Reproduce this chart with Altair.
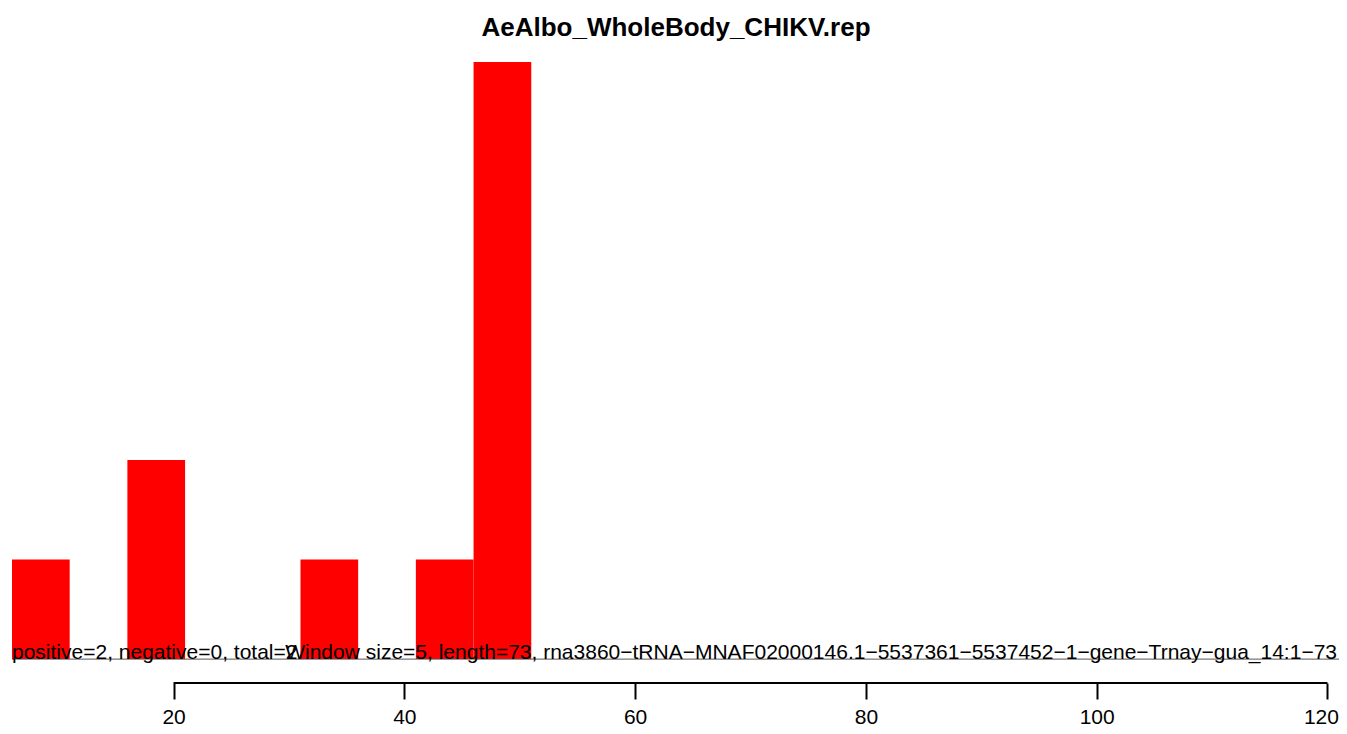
import altair as alt
import pandas as pd

# ---- data ----
bin_start = [6, 16, 31, 41, 46]
bin_end = [11, 21, 36, 46, 51]
counts = [1, 2, 1, 1, 6]

title_text = "AeAlbo_WholeBody_CHIKV.rep"
left_note = "positive=2, negative=0, total=2"
right_note = "Window size=5, length=73, rna3860\u2212tRNA\u2212MNAF02000146.1\u22125537361\u22125537452\u22121\u2212gene\u2212Trnay\u2212gua_14:1\u221273"
tick_values = [20, 40, 60, 80, 100, 120]
x_domain = [6, 121]
y_domain = [-0.24, 6.24]

FONT = "Liberation Sans"

bars_df = pd.DataFrame({"start": bin_start, "end": bin_end, "count": counts})
base_df = pd.DataFrame({"x0": [x_domain[0]], "x1": [x_domain[1]], "y": [0]})
axis_df = pd.DataFrame({"x0": [tick_values[0]], "x1": [tick_values[-1]], "y": [y_domain[0]]})
notes_df = pd.DataFrame({"x": [x_domain[0], x_domain[1]], "y": [0, 0],
                         "label": [left_note, right_note], "side": ["left", "right"]})

xscale = alt.Scale(domain=x_domain, nice=False, zero=False)
yscale = alt.Scale(domain=y_domain, nice=False, zero=False)

bars = alt.Chart(bars_df).mark_rect(color="#FF0000", strokeWidth=0).encode(
    x=alt.X("start:Q", scale=xscale, title=None,
            axis=alt.Axis(values=tick_values, domain=False, grid=False,
                          tickSize=16, tickWidth=2, tickColor="black",
                          labelFont=FONT, labelFontSize=21, labelColor="black",
                          labelPadding=24, labelBaseline="alphabetic",
                          labelFlush=15, labelFlushOffset=11,
                          labelOverlap=False, format="d")),
    x2="end:Q",
    y=alt.Y("count:Q", scale=yscale, axis=None),
    y2=alt.Y2(datum=0),
)

baseline = alt.Chart(base_df).mark_rule(color="#555555", strokeWidth=1).encode(
    x=alt.X("x0:Q", scale=xscale, title=None),
    x2="x1:Q",
    y=alt.Y("y:Q", scale=yscale, axis=None),
)

axis_line = alt.Chart(axis_df).mark_rule(color="black", strokeWidth=2).encode(
    x=alt.X("x0:Q", scale=xscale, title=None),
    x2="x1:Q",
    y=alt.Y("y:Q", scale=yscale, axis=None),
)

left_text = alt.Chart(notes_df).transform_filter(alt.datum.side == "left").mark_text(
    align="left", baseline="alphabetic", font=FONT, fontSize=21, color="black"
).encode(
    x=alt.X("x:Q", scale=xscale, title=None),
    y=alt.Y("y:Q", scale=yscale, axis=None),
    text="label:N",
)

right_text = alt.Chart(notes_df).transform_filter(alt.datum.side == "right").mark_text(
    align="right", baseline="alphabetic", font=FONT, fontSize=21, color="black", dx=-2
).encode(
    x=alt.X("x:Q", scale=xscale, title=None),
    y=alt.Y("y:Q", scale=yscale, axis=None),
    text="label:N",
)

title = alt.Chart(pd.DataFrame({"t": [title_text]})).mark_text(
    align="center", baseline="alphabetic", font=FONT, fontSize=26,
    fontWeight="bold", color="black"
).encode(
    x=alt.value(664),
    y=alt.value(-2),
    text="t:N",
)

chart = alt.layer(bars, baseline, axis_line, left_text, right_text, title).properties(
    width=1327,
    height=645,
    autosize=alt.AutoSizeParams(type="none"),
    padding={"left": 4, "top": 30, "right": 0, "bottom": 43},
    background="white",
).configure_view(stroke=None)

chart.save("out.html", embed_options={"renderer": "svg", "actions": False})
